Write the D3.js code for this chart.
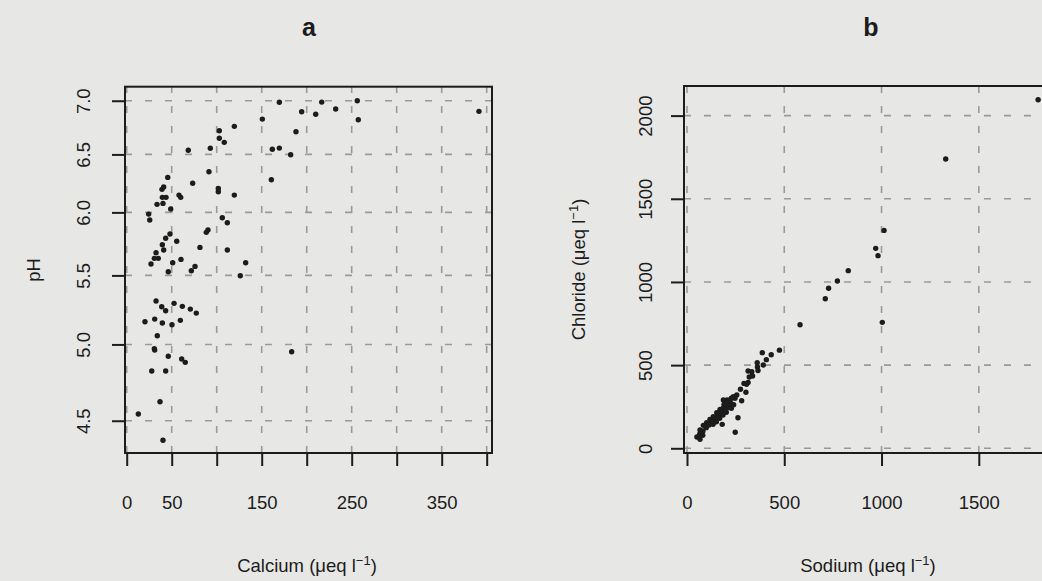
<!DOCTYPE html>
<html>
<head>
<meta charset="utf-8">
<script src="https://cdn.jsdelivr.net/npm/d3@7"></script>
<style>
  html, body { margin: 0; padding: 0; background: #e7e7e5; }
  svg { display: block; font-family: "Liberation Sans", Arial, Helvetica, sans-serif; }
</style>
</head>
<body>
<svg id="chart" width="1042" height="581"></svg>
<script>
// panel a: calcium vs pH
const calcium = [169.6, 150.7, 119.6, 102.9, 188.1, 102.9, 108.4, 68.4, 92.9, 161.8, 169.6, 182.2,
  91.4, 45.6, 160.7, 73.3, 41.1, 39.2, 101.8, 101.8, 58.1, 60.0, 119.6, 39.6, 43.7, 33.7, 40.3,
  48.9, 24.4, 25.6, 106.2, 111.8, 48.1, 43.3, 90.3, 88.4, 55.6, 39.6, 41.1, 81.4, 111.8, 32.6,
  30.7, 35.1, 60.3, 27.0, 51.1, 46.2, 71.8, 75.9, 132.2, 126.2, 32.6, 38.9, 43.3, 52.6, 61.8,
  70.7, 77.3, 20.3, 31.1, 39.6, 50.3, 59.6, 34.0, 30.7, 31.1, 46.2, 61.1, 65.1, 27.8, 43.3,
  183.3, 37.0, 12.9, 40.3, 216.7, 256.2, 194.4, 210.0, 232.2, 257.3, 391.4];
const pH = [6.985, 6.825, 6.757, 6.716, 6.707, 6.646, 6.609, 6.537, 6.555, 6.546, 6.557, 6.497,
  6.346, 6.297, 6.277, 6.246, 6.214, 6.194, 6.202, 6.174, 6.145, 6.126, 6.145, 6.126, 6.126, 6.067, 6.075,
  6.028, 5.986, 5.937, 5.956, 5.915, 5.823, 5.789, 5.856, 5.837, 5.765, 5.738, 5.696, 5.717, 5.696, 5.675,
  5.631, 5.631, 5.623, 5.587, 5.597, 5.528, 5.536, 5.569, 5.597, 5.497, 5.309, 5.267, 5.238, 5.292, 5.270,
  5.250, 5.221, 5.159, 5.178, 5.150, 5.138, 5.169, 5.060, 4.970, 4.961, 4.919, 4.900, 4.878, 4.820, 4.820,
  4.950, 4.620, 4.542, 4.380, 6.987, 7.000, 6.894, 6.870, 6.920, 6.819, 6.898];

// panel b: sodium vs chloride
const sodium = [1805, 1330, 1013, 970, 982, 829, 773, 728, 711, 1004, 581, 475, 433, 387, 408, 361,
  392, 362, 365, 333, 314, 337, 320, 314, 306, 293, 275, 303, 256, 238, 247, 281, 228, 206, 194,
  220, 221, 187, 211, 195, 230, 185, 228, 170, 204, 176, 202, 153, 159, 185, 135, 151, 168, 262,
  142, 118, 125, 151, 101, 134, 113, 181, 84, 99, 82, 67, 248, 65, 81, 51, 67,
  215, 198, 178, 162, 145, 128, 240, 210, 190, 172];
const chloride = [2095, 1739, 1310, 1202, 1158, 1068, 1006, 962, 899, 757, 743, 590, 562, 575, 533, 514,
  501, 489, 468, 460, 465, 435, 429, 396, 385, 390, 355, 337, 320, 310, 301, 286, 301, 290, 280,
  271, 290, 290, 250, 260, 266, 240, 240, 234, 240, 220, 216, 214, 204, 200, 190, 184, 180, 184,
  170, 174, 160, 160, 154, 144, 140, 144, 138, 124, 104, 110, 96, 84, 78, 68, 54,
  248, 228, 210, 196, 176, 164, 262, 274, 262, 222];

const phTicks = [4.5, 5.0, 5.5, 6.0, 6.5, 7.0];
const caTicks = [0, 50, 100, 150, 200, 250, 300, 350, 400];
const caLabels = ["0", "50", "150", "250", "350"];
const naTicks = [0, 500, 1000, 1500];
const naGrid = [0, 500, 1000, 1500, 2000];
const clTicks = [0, 500, 1000, 1500, 2000];

const svg = d3.select("#chart");
const ink = "#1c1c1c";
const gridColor = "#9a9a98";

function panel(opt) {
  const g = svg.append("g");
  const [x0, x1] = opt.x.range();
  const [y0, y1] = opt.y.range();

  // dashed grid
  g.selectAll(".hg").data(opt.hGrid).enter().append("line")
    .attr("x1", x0).attr("x2", x1)
    .attr("y1", d => opt.y(d)).attr("y2", d => opt.y(d))
    .attr("stroke", gridColor).attr("stroke-width", 1.6)
    .attr("stroke-dasharray", "7,13");
  g.selectAll(".vg").data(opt.vGrid).enter().append("line")
    .attr("x1", d => opt.x(d)).attr("x2", d => opt.x(d))
    .attr("y1", y0).attr("y2", y1)
    .attr("stroke", gridColor).attr("stroke-width", 1.6)
    .attr("stroke-dasharray", "7,13");

  // points
  g.selectAll("circle").data(opt.xs).enter().append("circle")
    .attr("cx", d => opt.x(d))
    .attr("cy", (d, i) => opt.y(opt.ys[i]))
    .attr("r", 2.7)
    .attr("fill", ink);

  // box
  g.append("rect")
    .attr("x", x0).attr("y", y1)
    .attr("width", x1 - x0).attr("height", y0 - y1)
    .attr("fill", "none").attr("stroke", ink).attr("stroke-width", 2);

  // x axis
  const xAxis = d3.axisBottom(opt.x)
    .tickValues(opt.xTicks)
    .tickSize(13)
    .tickPadding(30)
    .tickFormat(opt.xFormat);
  const gx = g.append("g").attr("transform", `translate(0, ${y0})`).call(xAxis);
  gx.select(".domain").remove();
  gx.selectAll(".tick line").attr("stroke", ink).attr("stroke-width", 2);
  gx.selectAll(".tick text").attr("fill", ink).style("font-size", "18.5px");

  // y axis (labels rotated like R's default)
  const yAxis = d3.axisLeft(opt.y)
    .tickValues(opt.yTicks)
    .tickSize(13)
    .tickFormat(opt.yFormat);
  const gy = g.append("g").attr("transform", `translate(${x0}, 0)`).call(yAxis);
  gy.select(".domain").remove();
  gy.selectAll(".tick line").attr("stroke", ink).attr("stroke-width", 2);
  gy.selectAll(".tick text")
    .attr("fill", ink).style("font-size", "18.5px")
    .attr("x", null).attr("dy", null)
    .attr("text-anchor", "middle")
    .attr("transform", `translate(${opt.yLabelX - x0}, 0) rotate(-90)`);

  // panel letter
  svg.append("text")
    .attr("x", opt.titleX).attr("y", 36)
    .attr("text-anchor", "middle")
    .attr("fill", ink)
    .style("font-size", "25px").style("font-weight", "bold")
    .text(opt.title);

  // x title
  const xt = svg.append("text")
    .attr("x", opt.xTitleX).attr("y", 572)
    .attr("text-anchor", "middle").attr("fill", ink)
    .style("font-size", "18.5px");
  xt.append("tspan").text(opt.xTitle + " (\u03bceq l");
  xt.append("tspan").attr("dy", -7).style("font-size", "13px").text("\u22121");
  xt.append("tspan").attr("dy", 7).text(")");

  // y title
  const yt = svg.append("text")
    .attr("transform", `translate(${opt.yTitleX}, ${(y0 + y1) / 2}) rotate(-90)`)
    .attr("text-anchor", "middle").attr("fill", ink)
    .style("font-size", "18.5px");
  if (opt.yUnits) {
    yt.append("tspan").text(opt.yTitle + " (\u03bceq l");
    yt.append("tspan").attr("dy", -7).style("font-size", "13px").text("\u22121");
    yt.append("tspan").attr("dy", 7).text(")");
  } else {
    yt.text(opt.yTitle);
  }
}

// panel a
const xA = d3.scaleLinear().domain([-1.9, 405.9]).range([125, 492]);
const yA = d3.scaleLog().domain([4.304, 7.137]).range([453, 86.7]);
panel({
  x: xA, y: yA, xs: calcium, ys: pH,
  hGrid: phTicks, vGrid: caTicks,
  xTicks: caTicks, yTicks: phTicks,
  xFormat: d => caLabels.includes(String(d)) ? String(d) : "",
  yFormat: d3.format(".1f"),
  yLabelX: 89.5,
  title: "a", titleX: 309,
  xTitle: "Calcium", xTitleX: 307,
  yTitle: "pH", yTitleX: 40, yUnits: false
});

// panel b
const xB = d3.scaleLinear().domain([-15.4, 1866]).range([684, 1050]);
const yB = d3.scaleLinear().domain([-28.3, 2178]).range([453, 86]);
panel({
  x: xB, y: yB, xs: sodium, ys: chloride,
  hGrid: clTicks, vGrid: naGrid,
  xTicks: naTicks, yTicks: clTicks,
  xFormat: d => String(d),
  yFormat: d => String(d),
  yLabelX: 651.5,
  title: "b", titleX: 871,
  xTitle: "Sodium", xTitleX: 868,
  yTitle: "Chloride", yTitleX: 585, yUnits: true
});
</script>
</body>
</html>
